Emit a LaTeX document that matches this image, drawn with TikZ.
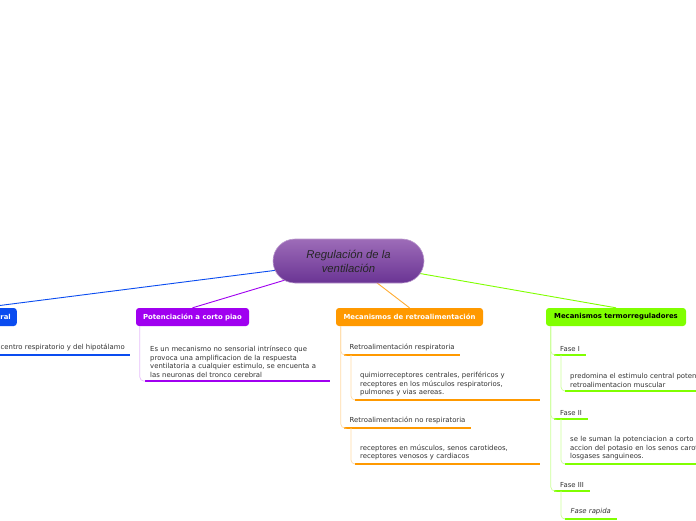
\documentclass[tikz,border=0pt]{standalone}
\usepackage{fontspec}
\setmainfont{DejaVu Sans}
\newfontfamily\centerfont{Liberation Sans}
\definecolor{cblue}{HTML}{0A4CF0}
\definecolor{cpurple}{HTML}{A000F0}
\definecolor{corange}{HTML}{FF9900}
\definecolor{cgreen}{HTML}{80FF00}
\definecolor{txt}{HTML}{333333}
\definecolor{ctop}{HTML}{9D6CB8}
\definecolor{cbot}{HTML}{6A3494}
\tikzset{
  topic/.style={rounded corners=3pt, minimum height=18pt, inner xsep=7pt, inner ysep=0pt,
    font=\fontsize{6.9}{8}\selectfont\bfseries, text=white},
  sub/.style={anchor=south west, inner xsep=5.5pt, inner ysep=3.5pt,
    font=\fontsize{6.9}{8}\selectfont, text=txt},
  desc/.style={anchor=south west, inner xsep=5pt, inner ysep=3.5pt, text width=175pt,
    font=\fontsize{6.9}{8.6}\selectfont, text=txt, align=left},
  ul/.style={line width=2.6pt},
  tree/.style={line width=0.7pt, rounded corners=4pt},
  link/.style={line width=0.9pt}
}
\begin{document}
\begin{tikzpicture}[x=1pt,y=-1pt]
\useasboundingbox (0,0) rectangle (696,520);
\fill[white] (0,0) rectangle (696,520);
\clip (0,0) rectangle (696,520);

\coordinate (cc) at (348.5,261);

% main topics
\node[topic, fill=cblue, anchor=east, inner xsep=6pt] (bbox) at (17,317) {Control central};
\node[topic, fill=cpurple, minimum width=113pt] (pbox) at (192.5,317) {Potenciación a corto piao};
\node[topic, fill=corange, minimum width=147pt] (obox) at (409.5,317) {Mecanismos de retroalimentación};
\node[topic, fill=cgreen, minimum width=140pt, text=black] (gbox) at (616,317) {Mecanismos termorreguladores};

\draw[link, cblue] (cc) -- (bbox.north);
\draw[link, cpurple] (cc) -- (pbox.north);
\draw[link, corange!80] (cc) -- (obox.north);
\draw[link, cgreen] (cc) -- (gbox.north);

% central node (drawn over the links)
\node[minimum width=151pt, minimum height=44pt, rounded corners=22pt,
  top color=ctop, bottom color=cbot, draw=ctop!70!white, line width=0.6pt,
  align=center, font=\centerfont\itshape\fontsize{11.3}{14}\selectfont, text=black!85]
  (c) at (cc) {Regulación de la\\ventilación};

% blue branch
\node[sub, anchor=south east, inner xsep=5pt] (bdesc) at (130,355) {centro respiratorio y del hipotálamo};
\draw[ul, cblue] (bdesc.south west) -- (bdesc.south east);
\draw[tree, cblue!35] ([xshift=5pt]bbox.south west) |- (bdesc.south west);

% purple branch
\node[desc] (pdesc) at (145,381) {Es un mecanismo no sensorial intrínseco que\\provoca una amplificacion de la respuesta\\ventilatoria a cualquier estimulo, se encuenta a\\las neuronas del tronco cerebral};
\draw[ul, cpurple] (pdesc.south west) -- (pdesc.south east);
\draw[tree, cpurple!25] ([xshift=4pt]pbox.south west) |- (pdesc.south west);

% orange branch
\node[sub] (os1) at (344,355) {Retroalimentación respiratoria};
\draw[ul, corange] (os1.south west) -- (os1.south east);
\node[desc] (od1) at (355,400) {quimiorreceptores centrales, periféricos y\\receptores en los músculos respiratorios,\\pulmones y vias aereas.};
\draw[ul, corange] (od1.south west) -- (od1.south east);
\node[sub] (os2) at (344,428) {Retroalimentación no respiratoria};
\draw[ul, corange] (os2.south west) -- (os2.south east);
\node[desc] (od2) at (355,464) {receptores en músculos, senos carotideos,\\receptores venosos y cardiacos};
\draw[ul, corange] (od2.south west) -- (od2.south east);
\draw[tree, corange!35] ([xshift=5pt]obox.south west) |- (os1.south west);
\draw[tree, corange!35] ([xshift=5pt]obox.south west) |- (os2.south west);
\draw[tree, corange!35] ([xshift=7pt]os1.south west) |- (od1.south west);
\draw[tree, corange!35] ([xshift=7pt]os2.south west) |- (od2.south west);

% green branch
\node[sub, inner xsep=6pt] (gs1) at (554,355) {Fase I};
\draw[ul, cgreen] (gs1.south west) -- (gs1.south east);
\node[desc, text width=200pt] (gd1) at (565,391) {predomina el estimulo central potenciado por la\\retroalimentacion muscular};
\draw[ul, cgreen] (gd1.south west) -- (gd1.south east);
\node[sub, inner xsep=6pt] (gs2) at (554,419) {Fase II};
\draw[ul, cgreen] (gs2.south west) -- (gs2.south east);
\node[desc, text width=200pt] (gd2) at (565,464) {se le suman la potenciacion a corto plazo y la\\accion del potasio en los senos carotideos y\\losgases sanguineos.};
\draw[ul, cgreen] (gd2.south west) -- (gd2.south east);
\node[sub, inner xsep=6pt] (gs3) at (554,491) {Fase III};
\draw[ul, cgreen] (gs3.south west) -- (gs3.south east);
\node[sub, font=\fontsize{6.9}{8}\selectfont\itshape] (gd3) at (565,519) {Fase rapida};
\draw[ul, cgreen] (gd3.south west) -- (gd3.south east);
\draw[tree, cgreen!40] ([xshift=5pt]gbox.south west) |- (gs1.south west);
\draw[tree, cgreen!40] ([xshift=5pt]gbox.south west) |- (gs2.south west);
\draw[tree, cgreen!40] ([xshift=5pt]gbox.south west) |- (gs3.south west);
\draw[tree, cgreen!40] ([xshift=7pt]gs1.south west) |- (gd1.south west);
\draw[tree, cgreen!40] ([xshift=7pt]gs2.south west) |- (gd2.south west);
\draw[tree, cgreen!40] ([xshift=7pt]gs3.south west) |- (gd3.south west);
\end{tikzpicture}
\end{document}
